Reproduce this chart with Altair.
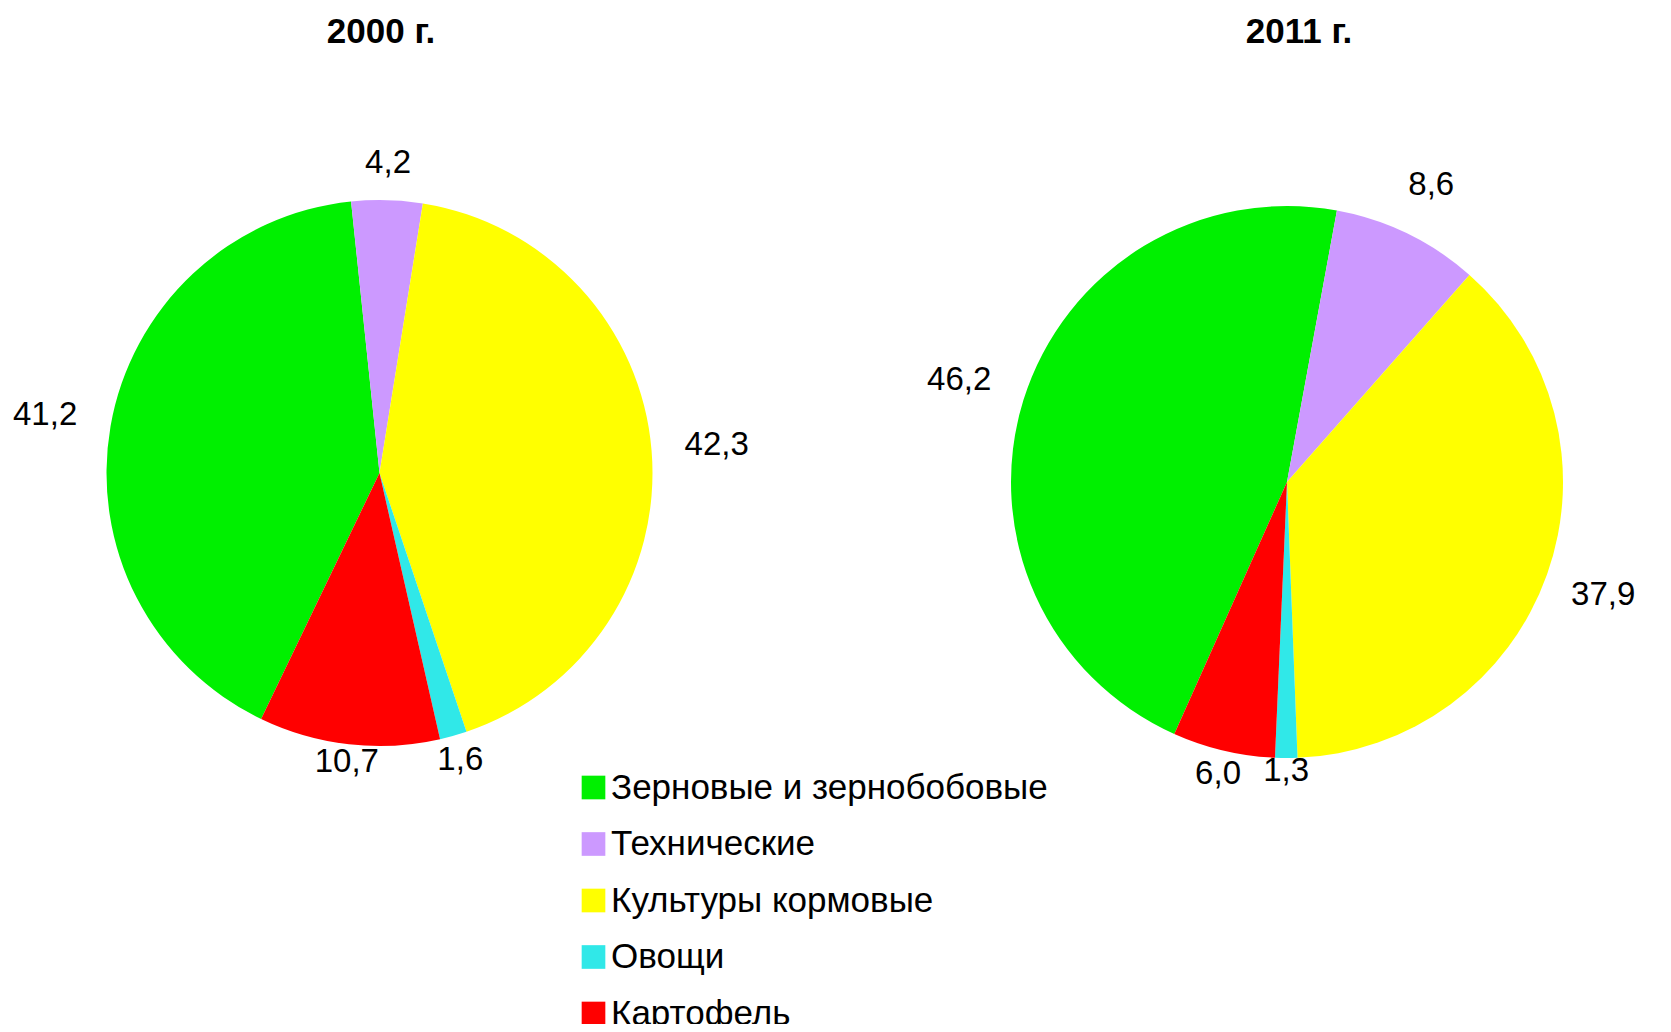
import math
import altair as alt
import pandas as pd

# ---- data -------------------------------------------------------------
CATEGORIES = ["Зерновые и зернобобовые", "Технические", "Культуры кормовые", "Овощи", "Картофель"]
COLORS = ["#00F000", "#CC99FF", "#FFFF00", "#30E8E8", "#FF0000"]
YEARS = ["2000 г.", "2011 г."]
VALUES_2000 = [41.2, 4.2, 42.3, 1.6, 10.7]
VALUES_2011 = [46.2, 8.6, 37.9, 1.3, 6.0]
LABELS_2000 = ["41,2", "4,2", "42,3", "1,6", "10,7"]
LABELS_2011 = ["46,2", "8,6", "37,9", "1,3", "6,0"]

FONT = "Liberation Sans"

color_scale = alt.Scale(domain=CATEGORIES, range=COLORS)
legend = alt.Legend(
    orient="none", legendX=568, legendY=762, title=None,
    symbolType="square", symbolSize=560, symbolStrokeWidth=0, symbolOpacity=1,
    labelFontSize=35, labelFont=FONT, labelColor="#000000", labelLimit=800,
    labelOffset=0, rowPadding=20.5,
)


def pie(year, values, labels, cx, cy, r, start_deg, tx, ty):
    df = pd.DataFrame({"cat": CATEGORIES, "value": values, "label": labels, "idx": list(range(len(values)))})
    start = math.radians(start_deg)
    theta_scale = alt.Scale(domain=[0, 100], range=[start, start + 2 * math.pi])
    arcs = alt.Chart(df).mark_arc(radius=r).encode(
        theta=alt.Theta("value:Q", stack=True, scale=theta_scale),
        order=alt.Order("idx:Q", sort="ascending"),
        color=alt.Color("cat:N", scale=color_scale, legend=legend, sort=CATEGORIES),
        x=alt.value(cx), y=alt.value(cy),
    )
    text = alt.Chart(df).transform_window(
        cum="sum(value)", sort=[alt.SortField("idx")], frame=[None, 0]
    ).transform_calculate(
        midv="datum.cum - datum.value/2"
    ).transform_calculate(
        mid=f"{start} + 2*PI*datum.midv/100"
    ).transform_calculate(
        rad=f"{r} + 18 + 46*abs(sin(datum.mid)) + (cos(datum.mid) > 0 ? 18 : -5)*abs(cos(datum.mid))"
    ).mark_text(font=FONT, fontSize=33, align="center", baseline="middle", color="#000000").encode(
        theta=alt.Theta("midv:Q", stack=None, scale=theta_scale),
        text="label:N",
        radius=alt.Radius("rad:Q", scale=None),
        x=alt.value(cx), y=alt.value(cy),
    )
    title = alt.Chart(pd.DataFrame({"t": [year]})).mark_text(
        font=FONT, fontSize=35, fontWeight="bold", align="center", baseline="alphabetic", color="#000000"
    ).encode(text="t:N", x=alt.value(tx), y=alt.value(ty))
    return alt.layer(arcs, text, title)


p2000 = pie(YEARS[0], VALUES_2000, LABELS_2000, 371.5, 465, 273, 205.7, 373, 35)
p2011 = pie(YEARS[1], VALUES_2011, LABELS_2011, 1279, 474, 276, 204.1, 1291, 35)

chart = alt.layer(p2000, p2011).resolve_scale(theta="independent").properties(
    width=1655, height=1016, autosize=alt.AutoSizeParams(type="none"), padding=0
).configure_view(stroke=None)

chart.save("out.html", embed_options={"renderer": "svg", "actions": False})
